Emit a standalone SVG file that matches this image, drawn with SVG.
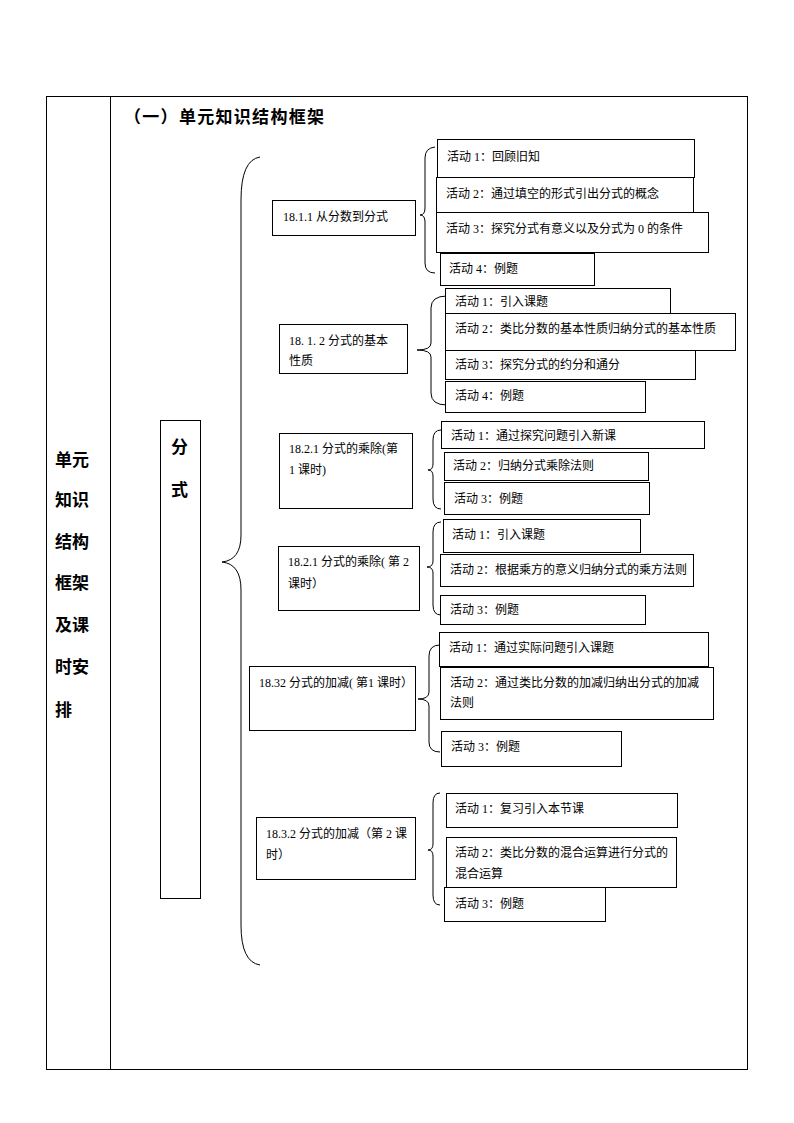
<svg xmlns="http://www.w3.org/2000/svg" width="794" height="1123" viewBox="0 0 794 1123">
<style>
.b{fill:#fff;stroke:#000;stroke-width:1}
.br{fill:none;stroke:#000;stroke-width:1}
.t{font-family:"Liberation Serif","Noto Sans CJK SC",serif;font-size:12px;fill:#000}
.h{font-family:"Liberation Sans","Noto Sans CJK SC",sans-serif;font-size:17px;font-weight:bold;fill:#000}
</style>
<rect width="794" height="1123" fill="#fff"/>
<g id="table">
<rect x="46.5" y="96.5" width="701" height="973" class="br"/>
<line x1="110.5" y1="96.5" x2="110.5" y2="1069.5" stroke="#000"/>
<text class="h" x="55" y="466">单元</text>
<text class="h" x="55" y="506">知识</text>
<text class="h" x="55" y="548">结构</text>
<text class="h" x="55" y="589">框架</text>
<text class="h" x="55" y="631">及课</text>
<text class="h" x="55" y="673">时安</text>
<text class="h" x="55" y="716">排</text>
<text class="h" x="124" y="123" font-size="18" textLength="200" lengthAdjust="spacing">（一）单元知识结构框架</text>
</g>
<g id="connectors">
<path class="br" d="M260,157 Q241,160 241,200 L241,535 Q241,560 222,562 Q241,564 241,590 L241,925 Q241,962 260,965"/>
<path class="br" d="M435,147 Q425,148 425,158 L425,208 Q425,215 420,215 Q425,215 425,222 L425,263 Q425,273 435,273"/>
<path class="br" d="M447,296 Q431,296 431,308 L431,343 Q431,350 417,350 Q431,350 431,357 L431,393 Q431,405 447,405"/>
<path class="br" d="M441,430 Q433,430 433,440 L433,464 Q433,470 428,470 Q433,470 433,476 L433,499 Q433,509 441,509"/>
<path class="br" d="M441,522 Q433,522 433,532 L433,561 Q433,567 427,567 Q433,567 433,573 L433,605 Q433,615 441,615"/>
<path class="br" d="M440,645 Q429,645 429,656 L429,692 Q429,699 418,699 Q429,699 429,706 L429,742 Q429,752 440,752"/>
<path class="br" d="M440,793 Q433,793 433,803 L433,844 Q433,850 428,850 Q433,850 433,856 L433,895 Q433,905 440,905"/>
</g>
<g id="root">
<rect class="b" x="160.5" y="420.5" width="40" height="478"/>
<text class="h" x="171" y="453">分</text>
<text class="h" x="171" y="496">式</text>
</g>
<g id="n1">
<rect class="b" x="272.5" y="200.5" width="143" height="35"/>
<text class="t" x="283" y="221">18.1.1 从分数到分式</text>
</g>
<g id="n1a1"><rect class="b" x="437.5" y="139.5" width="257" height="38"/><text class="t" x="447" y="161">活动 1：回顾旧知</text></g>
<g id="n1a2"><rect class="b" x="436.5" y="177.5" width="257" height="35"/><text class="t" x="446" y="198">活动 2：通过填空的形式引出分式的概念</text></g>
<g id="n1a3"><rect class="b" x="436.5" y="212.5" width="272" height="40"/><text class="t" x="446" y="233">活动 3：探究分式有意义以及分式为 0 的条件</text></g>
<g id="n1a4"><rect class="b" x="440.5" y="253.5" width="154" height="32"/><text class="t" x="449" y="273">活动 4：例题</text></g>

<g id="n2">
<rect class="b" x="279.5" y="324.5" width="128" height="49"/>
<text class="t" x="289" y="345">18. 1. 2 分式的基本</text>
<text class="t" x="289" y="365">性质</text>
</g>
<g id="n2a1"><rect class="b" x="445.5" y="288.5" width="225" height="25"/><text class="t" x="455" y="306">活动 1：引入课题</text></g>
<g id="n2a2"><rect class="b" x="445.5" y="313.5" width="290" height="37"/><text class="t" x="455" y="333">活动 2：类比分数的基本性质归纳分式的基本性质</text></g>
<g id="n2a3"><rect class="b" x="445.5" y="350.5" width="250" height="29"/><text class="t" x="455" y="369">活动 3：探究分式的约分和通分</text></g>
<g id="n2a4"><rect class="b" x="445.5" y="381.5" width="200" height="31"/><text class="t" x="455" y="400">活动 4：例题</text></g>

<g id="n3">
<rect class="b" x="279.5" y="433.5" width="133" height="75"/>
<text class="t" x="289" y="453">18.2.1 分式的乘除(第</text>
<text class="t" x="289" y="474">1 课时)</text>
</g>
<g id="n3a1"><rect class="b" x="441.5" y="421.5" width="263" height="27"/><text class="t" x="451" y="440">活动 1：通过探究问题引入新课</text></g>
<g id="n3a2"><rect class="b" x="444.5" y="452.5" width="204" height="28"/><text class="t" x="453" y="470">活动 2：归纳分式乘除法则</text></g>
<g id="n3a3"><rect class="b" x="444.5" y="482.5" width="205" height="32"/><text class="t" x="454" y="503">活动 3：例题</text></g>

<g id="n4">
<rect class="b" x="278.5" y="546.5" width="141" height="64"/>
<text class="t" x="288" y="566">18.2.1 分式的乘除( 第 2</text>
<text class="t" x="288" y="588">课时）</text>
</g>
<g id="n4a1"><rect class="b" x="443.5" y="519.5" width="197" height="33"/><text class="t" x="452" y="539">活动 1：引入课题</text></g>
<g id="n4a2"><rect class="b" x="440.5" y="554.5" width="253" height="32"/><text class="t" x="450" y="574">活动 2：根据乘方的意义归纳分式的乘方法则</text></g>
<g id="n4a3"><rect class="b" x="440.5" y="595.5" width="205" height="29"/><text class="t" x="450" y="614">活动 3：例题</text></g>

<g id="n5">
<rect class="b" x="249.5" y="666.5" width="166" height="64"/>
<text class="t" x="259" y="687">18.32 分式的加减( 第1 课时）</text>
</g>
<g id="n5a1"><rect class="b" x="439.5" y="632.5" width="269" height="34"/><text class="t" x="449" y="652">活动 1：通过实际问题引入课题</text></g>
<g id="n5a2"><rect class="b" x="440.5" y="667.5" width="273" height="52"/><text class="t" x="450" y="687">活动 2：通过类比分数的加减归纳出分式的加减</text><text class="t" x="450" y="707">法则</text></g>
<g id="n5a3"><rect class="b" x="441.5" y="731.5" width="180" height="35"/><text class="t" x="451" y="751">活动 3：例题</text></g>

<g id="n6">
<rect class="b" x="256.5" y="817.5" width="159" height="62"/>
<text class="t" x="266" y="838">18.3.2 分式的加减（第 2 课</text>
<text class="t" x="266" y="859">时）</text>
</g>
<g id="n6a1"><rect class="b" x="446.5" y="793.5" width="231" height="34"/><text class="t" x="455" y="813">活动 1：复习引入本节课</text></g>
<g id="n6a2"><rect class="b" x="446.5" y="837.5" width="230" height="50"/><text class="t" x="455" y="857">活动 2：类比分数的混合运算进行分式的</text><text class="t" x="455" y="878">混合运算</text></g>
<g id="n6a3"><rect class="b" x="444.5" y="887.5" width="161" height="34"/><text class="t" x="455" y="908">活动 3：例题</text></g>
</svg>
